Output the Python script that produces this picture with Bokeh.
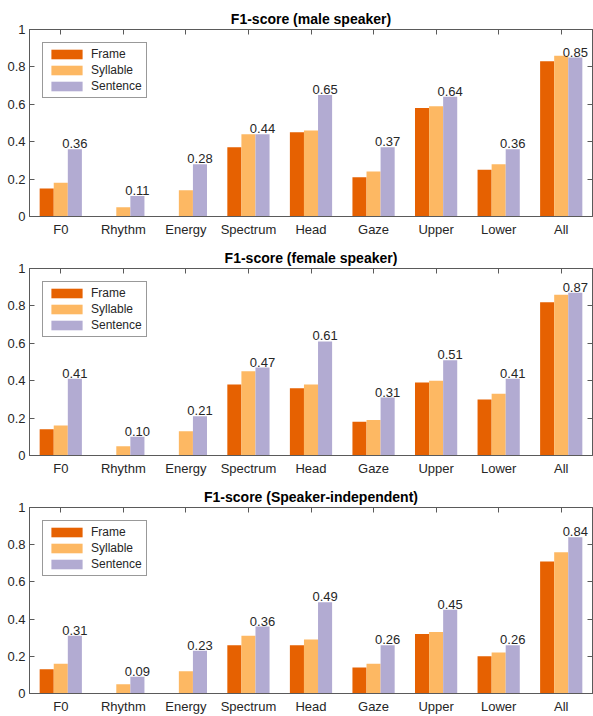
from bokeh.plotting import figure
from bokeh.models import (Range1d, FixedTicker, LinearAxis, ColumnDataSource,
                          LabelSet, Legend, LegendItem, CustomJSTickFormatter)
from bokeh.core.properties import value
from bokeh.layouts import column
from bokeh.transform import dodge
from bokeh.embed import file_html
from bokeh.resources import INLINE

categories = ["F0", "Rhythm", "Energy", "Spectrum", "Head", "Gaze", "Upper", "Lower", "All"]
series_names = ["Frame", "Syllable", "Sentence"]
colors = ["#E66101", "#FDB863", "#B2ABD2"]
y_ticks = [0, 0.2, 0.4, 0.6, 0.8, 1]

titles = ["F1-score (male speaker)", "F1-score (female speaker)", "F1-score (Speaker-independent)"]

male_frame = [0.15, 0.0, 0.0, 0.37, 0.45, 0.21, 0.58, 0.25, 0.83]
male_syllable = [0.18, 0.05, 0.14, 0.44, 0.46, 0.24, 0.59, 0.28, 0.86]
male_sentence = [0.36, 0.11, 0.28, 0.44, 0.65, 0.37, 0.64, 0.36, 0.85]

female_frame = [0.14, 0.0, 0.0, 0.38, 0.36, 0.18, 0.39, 0.30, 0.82]
female_syllable = [0.16, 0.05, 0.13, 0.45, 0.38, 0.19, 0.40, 0.33, 0.86]
female_sentence = [0.41, 0.10, 0.21, 0.47, 0.61, 0.31, 0.51, 0.41, 0.87]

indep_frame = [0.13, 0.0, 0.0, 0.26, 0.26, 0.14, 0.32, 0.20, 0.71]
indep_syllable = [0.16, 0.05, 0.12, 0.31, 0.29, 0.16, 0.33, 0.22, 0.76]
indep_sentence = [0.31, 0.09, 0.23, 0.36, 0.49, 0.26, 0.45, 0.26, 0.84]

FONT = "Liberation Sans"
TXT = "#262626"
AX = "#5a5a5a"
BAR_W = 0.225


def style_axis(ax, tick_in=5):
    ax.axis_line_color = AX
    ax.major_tick_line_color = AX
    ax.major_tick_in = tick_in
    ax.major_tick_out = 0
    ax.minor_tick_line_color = None
    ax.major_label_text_font = FONT
    ax.major_label_text_font_size = "13px"
    ax.major_label_text_color = TXT


def make_panel(title, frame, syll, sent, height):
    pos = list(range(1, len(categories) + 1))
    src = ColumnDataSource(dict(x=pos, frame=frame, syll=syll, sent=sent,
                                lab=[f"{v:.2f}" for v in sent]))
    p = figure(width=593, height=height, x_range=Range1d(0.5, 9.5), y_range=Range1d(0, 1),
               output_backend="svg", toolbar_location=None,
               min_border_left=29, min_border_right=1, min_border_top=29, min_border_bottom=0)
    p.xgrid.visible = False
    p.ygrid.visible = False
    p.outline_line_color = AX

    rends = []
    for off, col, c in zip([-BAR_W, 0, BAR_W], ["frame", "syll", "sent"], colors):
        r = p.vbar(x=dodge("x", off, range=p.x_range), top=col, bottom=0, width=BAR_W,
                   source=src, fill_color=c, line_color=None)
        rends.append(r)

    labels = LabelSet(x=dodge("x", BAR_W, range=p.x_range), y="sent", text="lab", source=src,
                      text_align="center", text_baseline="bottom", y_offset=1,
                      text_font=value(FONT), text_font_size=value("13px"), text_color=TXT)
    p.add_layout(labels)

    p.xaxis.ticker = FixedTicker(ticks=pos)
    p.xaxis.major_label_overrides = {i: c for i, c in zip(pos, categories)}
    p.xaxis.major_label_standoff = 5
    p.yaxis.ticker = FixedTicker(ticks=y_ticks)
    p.yaxis.formatter = CustomJSTickFormatter(
        code="return (tick == 0 || tick == 1) ? tick.toFixed(0) : tick.toFixed(1);")
    p.yaxis.major_label_standoff = 4
    style_axis(p.xaxis[0], tick_in=0)
    style_axis(p.yaxis[0])

    top = LinearAxis(ticker=FixedTicker(ticks=pos), formatter=CustomJSTickFormatter(code="return '';"))
    style_axis(top)
    top.major_label_standoff = 0
    p.add_layout(top, "above")
    right = LinearAxis(ticker=FixedTicker(ticks=y_ticks), formatter=CustomJSTickFormatter(code="return '';"))
    style_axis(right)
    right.major_label_standoff = 0
    p.add_layout(right, "right")

    p.title.text = title
    p.title.align = "center"
    p.title.text_font = FONT
    p.title.text_font_size = "14px"
    p.title.text_font_style = "bold"
    p.title.text_color = "#000000"
    p.title.standoff = 5

    legend = Legend(items=[LegendItem(label=n, renderers=[r]) for n, r in zip(series_names, rends)],
                    location="top_left")
    legend.margin = 13
    legend.padding = 4
    legend.spacing = 2
    legend.glyph_width = 39
    legend.glyph_height = 12
    legend.label_height = 14
    legend.label_standoff = 5
    legend.label_text_font = FONT
    legend.label_text_font_size = "12px"
    legend.label_text_color = TXT
    legend.border_line_color = "#333333"
    legend.border_line_width = 1
    legend.background_fill_alpha = 1
    p.add_layout(legend)
    return p


p1 = make_panel(titles[0], male_frame, male_syllable, male_sentence, 239)
p2 = make_panel(titles[1], female_frame, female_syllable, female_sentence, 239)
p3 = make_panel(titles[2], indep_frame, indep_syllable, indep_sentence, 238)

page = column(p1, p2, p3)
open("out.html", "w").write(file_html(page, INLINE))
